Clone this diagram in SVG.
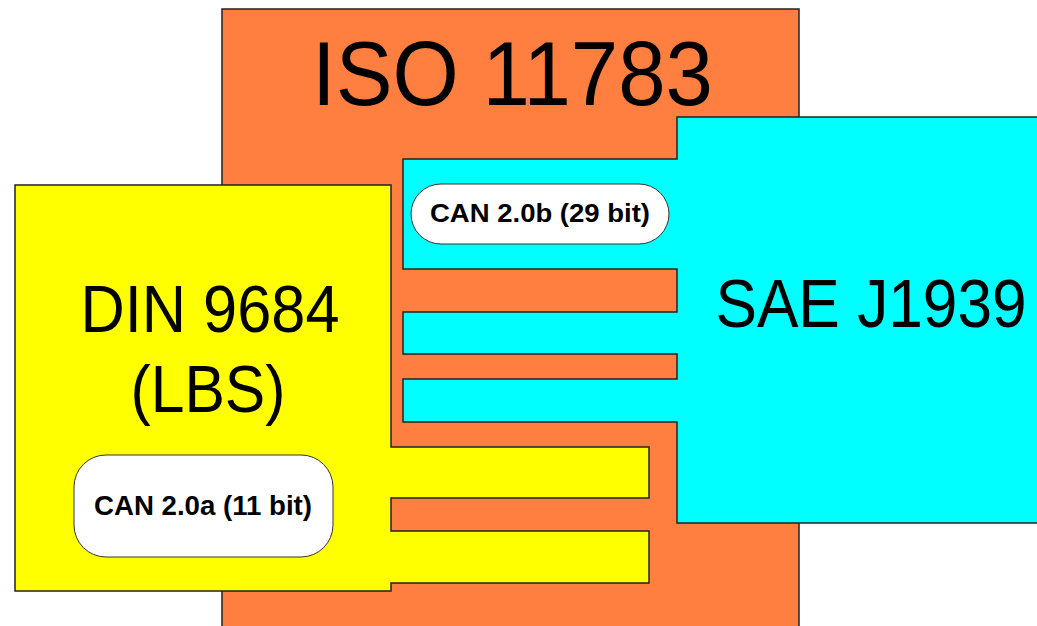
<svg xmlns="http://www.w3.org/2000/svg" width="1037" height="626" viewBox="0 0 1037 626">
<style>
.sh{stroke:#222;stroke-width:1.5;stroke-linejoin:miter}
.big{font-family:"Liberation Sans",Arial,sans-serif;fill:#000;text-anchor:middle}
.pill{fill:#fff;stroke:#333;stroke-width:1}
.lbl{font-family:"Liberation Sans",Arial,sans-serif;font-weight:bold;fill:#000;text-anchor:middle}
</style>
<rect width="1037" height="626" fill="#fff"/>
<g id="iso11783">
<rect class="sh" x="222" y="9" width="577" height="630" fill="#ff7f40"/>
<text class="big" x="512.5" y="105" font-size="90" textLength="401" lengthAdjust="spacingAndGlyphs">ISO 11783</text>
</g>
<g id="saej1939">
<polygon class="sh" fill="#00ffff" points="677,117 1045,117 1045,523 677,523 677,422 403,422 403,379 677,379 677,354 403,354 403,312 677,312 677,269 403,269 403,159 677,159"/>
<text class="big" transform="translate(871,327) scale(0.915,1)" x="0" y="0" font-size="68">SAE J1939</text>
</g>
<g id="din9684">
<polygon class="sh" fill="#ffff00" points="15,185 391,185 391,447 649,447 649,498 391,498 391,531 649,531 649,583 391,583 391,591 15,591"/>
<text class="big" x="210" y="332" font-size="67" textLength="259" lengthAdjust="spacingAndGlyphs">DIN 9684</text>
<text class="big" x="208" y="412" font-size="67" textLength="155" lengthAdjust="spacingAndGlyphs">(LBS)</text>
</g>
<g id="can20b">
<rect class="pill" x="411" y="184" width="258" height="60" rx="30" ry="30"/>
<text class="lbl" x="540" y="222" font-size="26" textLength="220" lengthAdjust="spacingAndGlyphs">CAN 2.0b (29 bit)</text>
</g>
<g id="can20a">
<rect class="pill" x="74" y="455" width="259" height="102" rx="32" ry="32"/>
<text class="lbl" x="203" y="515" font-size="27" textLength="218" lengthAdjust="spacingAndGlyphs">CAN 2.0a (11 bit)</text>
</g>
<g id="connectors"/>
</svg>
